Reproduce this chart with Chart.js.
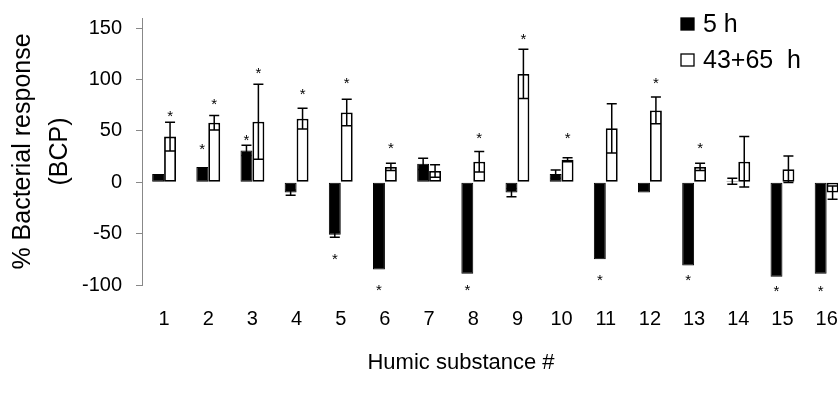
<!DOCTYPE html>
<html>
<head>
<meta charset="utf-8">
<script src="https://cdn.jsdelivr.net/npm/chart.js@4.4.1/dist/chart.umd.min.js"></script>
<style>
  html, body { margin: 0; padding: 0; background: #fff; overflow: hidden; }
  canvas { display: block; }
</style>
</head>
<body>
<canvas id="bcpChart" width="860" height="395"></canvas>
<script>
const substances = ['1', '2', '3', '4', '5', '6', '7', '8', '9', '10', '11', '12', '13', '14', '15', '16'];

// 5 h series
const response5h = [8, 15, 31, -10, -51, -85, 18, -89, -10, 8, -75, -10, -81, 1, -92, -89];
const error5h = [0, 0, 5, 2.5, 2.5, 0, 5.5, 0, 4, 4, 0, 0, 0, 3, 0, 0];
const star5h = [null, 35, 44, null, -72, -102, null, -102, null, null, -92, null, -92, null, -103, -103];

// 43+65 h series
const response43h = [44.5, 58, 59, 62, 68, 15, 11, 20, 105.5, 22, 52.6, 70, 15, 20, 12.7, -10];
const error43h = [14, 7, 36.5, 10, 13, 3.5, 6, 10, 24, 2, 24, 13, 3.5, 24.5, 13, 6.5];
const star43h = [67.5, 79, 109.5, 89, 100, 36, null, 46, 142, 46, null, 100, 36, null, null, null];

const yTicks = [-100, -50, 0, 50, 100, 150];

Chart.defaults.font.family = "'Liberation Sans', Arial, sans-serif";
Chart.defaults.color = '#000';

// error bars, both directions, caps a bit narrower than the bar
const errorBars = {
    id: 'errorBars',
    afterDatasetsDraw(chart) {
        const ctx = chart.ctx;
        const yScale = chart.scales.y;
        ctx.save();
        ctx.strokeStyle = '#000';
        ctx.lineWidth = 1.5;
        chart.data.datasets.forEach((ds, di) => {
            const meta = chart.getDatasetMeta(di);
            meta.data.forEach((bar, i) => {
                const err = ds.errors[i];
                if (!err) return;
                const v = ds.data[i];
                const top = yScale.getPixelForValue(v + err);
                const bottom = yScale.getPixelForValue(v - err);
                const half = bar.width * 0.42;
                ctx.beginPath();
                ctx.moveTo(bar.x, top);
                ctx.lineTo(bar.x, bottom);
                ctx.moveTo(bar.x - half, top);
                ctx.lineTo(bar.x + half, top);
                ctx.moveTo(bar.x - half, bottom);
                ctx.lineTo(bar.x + half, bottom);
                ctx.stroke();
            });
        });
        ctx.restore();
    }
};

// significance asterisks
const stars = {
    id: 'stars',
    afterDatasetsDraw(chart) {
        const ctx = chart.ctx;
        const yScale = chart.scales.y;
        ctx.save();
        ctx.fillStyle = '#000';
        ctx.font = "15px 'Liberation Sans', Arial, sans-serif";
        ctx.textAlign = 'center';
        ctx.textBaseline = 'alphabetic';
        chart.data.datasets.forEach((ds, di) => {
            const meta = chart.getDatasetMeta(di);
            meta.data.forEach((bar, i) => {
                const s = ds.stars[i];
                if (s === null) return;
                ctx.fillText('*', bar.x, yScale.getPixelForValue(s) + 8);
            });
        });
        ctx.restore();
    }
};

// legend in the top right corner and the x axis title
const extras = {
    id: 'extras',
    afterDraw(chart) {
        const ctx = chart.ctx;
        ctx.save();
        ctx.font = "25px 'Liberation Sans', Arial, sans-serif";
        ctx.textBaseline = 'middle';
        ctx.textAlign = 'left';
        chart.data.datasets.forEach((ds, di) => {
            const y = 24 + di * 36;
            ctx.fillStyle = ds.backgroundColor;
            ctx.fillRect(681, y - 6, 13, 12);
            ctx.strokeStyle = '#000';
            ctx.lineWidth = 1.3;
            ctx.strokeRect(681, y - 6, 13, 12);
            ctx.fillStyle = '#000';
            ctx.fillText(ds.label, 703, y + 1);
        });
        ctx.font = "22px 'Liberation Sans', Arial, sans-serif";
        ctx.textAlign = 'center';
        ctx.fillText('Humic substance #', 461, 363);
        ctx.restore();
    }
};

new Chart(document.getElementById('bcpChart'), {
    type: 'bar',
    data: {
        labels: substances,
        datasets: [
            {
                label: '5 h',
                data: response5h,
                errors: error5h,
                stars: star5h,
                backgroundColor: '#000',
                borderColor: '#000',
                borderWidth: 1,
                borderSkipped: false
            },
            {
                label: '43+65  h',
                data: response43h,
                errors: error43h,
                stars: star43h,
                backgroundColor: '#fff',
                borderColor: '#000',
                borderWidth: 1.8,
                borderSkipped: false
            }
        ]
    },
    options: {
        responsive: false,
        animation: false,
        categoryPercentage: 0.54,
        barPercentage: 1.0,
        layout: { padding: { top: 18, right: 8, left: 0, bottom: 0 } },
        scales: {
            x: {
                grid: { display: false, drawTicks: false },
                border: { display: false },
                ticks: { font: { size: 20 }, padding: 22, maxRotation: 0 },
                afterFit(scale) { scale.height = 110; }
            },
            y: {
                min: -100,
                max: 160,
                afterBuildTicks(scale) {
                    scale.ticks = yTicks.map(v => ({ value: v }));
                },
                grid: { drawOnChartArea: false, tickLength: 6, color: '#888' },
                border: { color: '#888', width: 1 },
                ticks: { font: { size: 20 }, padding: 14 },
                title: {
                    display: true,
                    text: ['% Bacterial response', '(BCP)'],
                    font: { size: 25, lineHeight: 1.5 },
                    padding: { top: 4, bottom: 0 }
                },
                afterFit(scale) {
                    scale.width = 142;
                    scale.paddingTop = 0;
                    scale.paddingBottom = 0;
                }
            }
        },
        plugins: {
            legend: { display: false },
            tooltip: { enabled: false }
        }
    },
    plugins: [errorBars, stars, extras]
});
</script>
</body>
</html>
